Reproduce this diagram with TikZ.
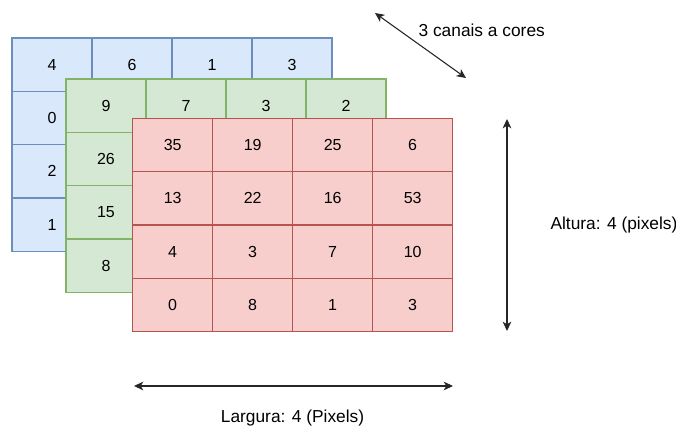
\documentclass[tikz,border=0pt]{standalone}
\usepackage{fontspec}
\setmainfont{Liberation Sans}
\usetikzlibrary{arrows.meta}
\tikzset{>={Stealth[length=7pt,width=6.5pt,inset=2pt]}}
\definecolor{bluefill}{HTML}{DAE8FC}
\definecolor{blueline}{HTML}{6C8EBF}
\definecolor{greenfill}{HTML}{D5E8D4}
\definecolor{greenline}{HTML}{82B366}
\definecolor{redfill}{HTML}{F8CECC}
\definecolor{redline}{HTML}{B85450}

\begin{document}
\begin{tikzpicture}[x=1pt, y=-1pt,
    cell/.style={draw, line width=0.8pt, minimum width=60pt, minimum height=40pt,
      inner sep=0pt, font=\fontsize{12}{14}\selectfont},
    label/.style={font=\fontsize{13}{15}\selectfont}]
  \useasboundingbox (0, 0) rectangle (507, 321);
  % blue channel
  \foreach \vals [count=\r from 0] in {{4,6,1,3},{0,{},{},{}},{2,{},{},{}},{1,{},{},{}}}
    \foreach \v [count=\c from 0] in \vals
      \node[cell, fill=bluefill, draw=blueline] (b-\r-\c) at (39+60*\c, 48.5+40*\r) {\v};
  % green channel
  \foreach \vals [count=\r from 0] in {{9,7,3,2},{26,{},{},{}},{15,{},{},{}},{8,{},{},{}}}
    \foreach \v [count=\c from 0] in \vals
      \node[cell, fill=greenfill, draw=greenline] (g-\r-\c) at (79.5+60*\c, 79.25+40*\r) {\v};
  % red channel
  \foreach \vals [count=\r from 0] in {{35,19,25,6},{13,22,16,53},{4,3,7,10},{0,8,1,3}}
    \foreach \v [count=\c from 0] in \vals
      \node[cell, fill=redfill, draw=redline] (r-\r-\c) at (129.5+60*\c, 108.75+40*\r) {\v};
  % arrows
  \coordinate (depth-a) at (281.25, 9.75);
  \coordinate (depth-b) at (349.5, 58.5);
  \coordinate (height-a) at (380.25, 89.25);
  \coordinate (height-b) at (380.25, 248.25);
  \coordinate (width-a) at (100.5, 289.5);
  \coordinate (width-b) at (339.75, 289.5);
  \draw[<->, line width=0.8pt, black!85] (depth-a) -- (depth-b);
  \draw[<->, line width=0.8pt, black!85] (height-a) -- (height-b);
  \draw[<->, line width=0.8pt, black!85] (width-a) -- (width-b);
  % labels
  \node[label] (depth) at (361.3, 22.5) {3 canais a cores};
  \node[label] (height) at (460.5, 168.75) {Altura: 4 (pixels)};
  \node[label] (width) at (219.4, 313.7) {Largura: 4 (Pixels)};
\end{tikzpicture}
\end{document}
